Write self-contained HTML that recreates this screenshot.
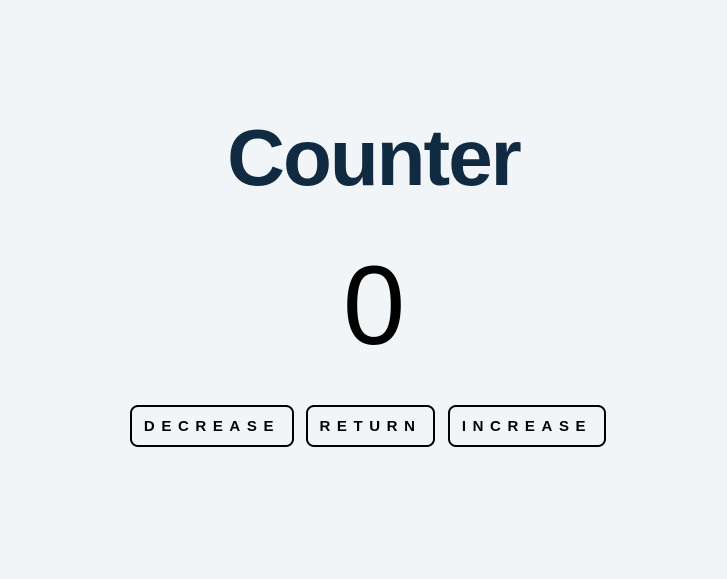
<!DOCTYPE html>
<html><head><meta charset="utf-8"><style>
html,body{margin:0;padding:0;width:727px;height:579px;background:#f1f5f8;overflow:hidden;font-family:"Liberation Sans",sans-serif}
.t{position:absolute;left:0;width:727px;text-align:center}
#title{top:108px;font-size:80px;font-weight:bold;color:#102a42;letter-spacing:-2px;line-height:100px;padding-left:20px;box-sizing:border-box}
#val{top:241px;font-size:112px;color:#000;line-height:130px;padding-left:21px;box-sizing:border-box}
.btn{position:absolute;top:405px;height:42px;box-sizing:border-box;border:2px solid #000;border-radius:8px;background:transparent;font:bold 15px "Liberation Sans",sans-serif;letter-spacing:6.6px;color:#000;display:flex;align-items:center;justify-content:center;padding-left:0px}
</style></head><body>
<div class="t" id="title">Counter</div>
<div class="t" id="val">0</div>
<div class="btn" style="left:130px;width:164px">DECREASE</div>
<div class="btn" style="left:306px;width:129px">RETURN</div>
<div class="btn" style="left:448px;width:158px">INCREASE</div>
</body></html>
